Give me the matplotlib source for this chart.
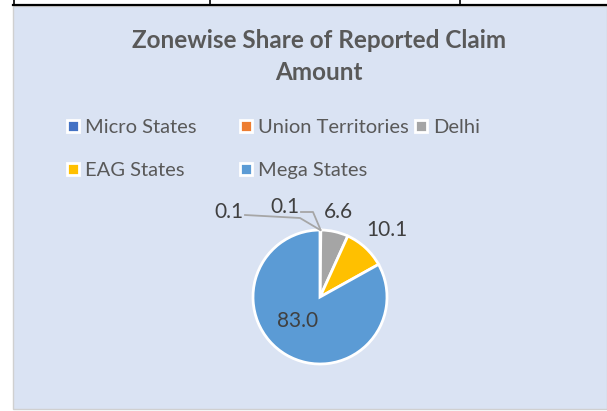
import numpy as np
import matplotlib
matplotlib.use('Agg')
import matplotlib.pyplot as plt
from matplotlib.patches import Rectangle
from matplotlib.lines import Line2D

# Zonewise share of reported claim amount (%)
zones = ['Micro States', 'Union Territories', 'Delhi', 'EAG States', 'Mega States']
shares = [0.1, 0.1, 6.6, 10.1, 83.0]
colors = ['#4472C4', '#ED7D31', '#A5A5A5', '#FFC000', '#5B9BD5']

W, H = 607, 411
FONT = 'Lato'
TXT = '#595959'

fig = plt.figure(figsize=(W / 100, H / 100), dpi=100, facecolor='white')
# one axes over the whole figure, 1 unit = 1 pixel, y pointing down
ax = fig.add_axes([0, 0, 1, 1])

# chart area background + table lines above it
ax.add_patch(Rectangle((13, 6), W - 13, 403, facecolor='#DAE3F3',
                       edgecolor='#D0D0D0', linewidth=1, zorder=0))
ax.plot([13, W], [5, 5], color='black', lw=1.6, zorder=1)
for xv in [14, 210, 460]:
    ax.plot([xv, xv], [0, 5], color='black', lw=1.2, zorder=1)

# pie (y axis inverted, so counterclock=True draws clockwise on screen)
cx, cy, r = 320, 297, 67
wedges, _ = ax.pie(shares, colors=colors, startangle=-90, counterclock=True,
                   center=(cx, cy), radius=r,
                   wedgeprops=dict(edgecolor='white', linewidth=2))

ax.set_xlim(0, W)
ax.set_ylim(H, 0)
ax.set_aspect('auto')
ax.axis('off')

# title
ax.text(319, 40, 'Zonewise Share of Reported Claim', ha='center', va='center',
        fontsize=17.5, fontweight='bold', color=TXT, family=FONT)
ax.text(319, 72, 'Amount', ha='center', va='center',
        fontsize=17.5, fontweight='bold', color=TXT, family=FONT)

# data labels
lbl_pos = [(229, 212), (285, 207), (338, 212), (387, 230), (298, 321)]
for (lx, ly), v in zip(lbl_pos, shares):
    ax.text(lx, ly, f'{v:.1f}', ha='center', va='center', fontsize=15,
            color='#404040', family=FONT)

# leader lines for the two tiny slices
elbows = [[(245, 215), (300, 218)], [(301, 212), (313, 212)]]
for w, pts in zip(wedges[:2], elbows):
    th = np.deg2rad((w.theta1 + w.theta2) / 2)
    px, py = w.center[0] + w.r * np.cos(th), w.center[1] + w.r * np.sin(th)
    xs = [p[0] for p in pts] + [px]
    ys = [p[1] for p in pts] + [py]
    ax.plot(xs, ys, color='#A6A6A6', lw=1.3, zorder=3)

# legend, laid out in fixed columns like the original
def handle(c):
    return Line2D([], [], ls='none', marker='s', markersize=8.5,
                  markerfacecolor=c, markeredgecolor='white', markeredgewidth=2)

columns = [([0, 3], 67), ([1, 4], 240), ([2], 415)]
for idx, x0 in columns:
    leg = fig.legend([handle(colors[i]) for i in idx], [zones[i] for i in idx],
                     loc='upper left', bbox_to_anchor=(x0 / W, 1 - 119 / H),
                     frameon=False, handlelength=0.6, handletextpad=0.3,
                     labelspacing=1.3, borderpad=0, borderaxespad=0,
                     prop=dict(family=FONT, size=14.5))
    for t in leg.get_texts():
        t.set_color(TXT)

fig.savefig('out.png', dpi=100, facecolor='white')
